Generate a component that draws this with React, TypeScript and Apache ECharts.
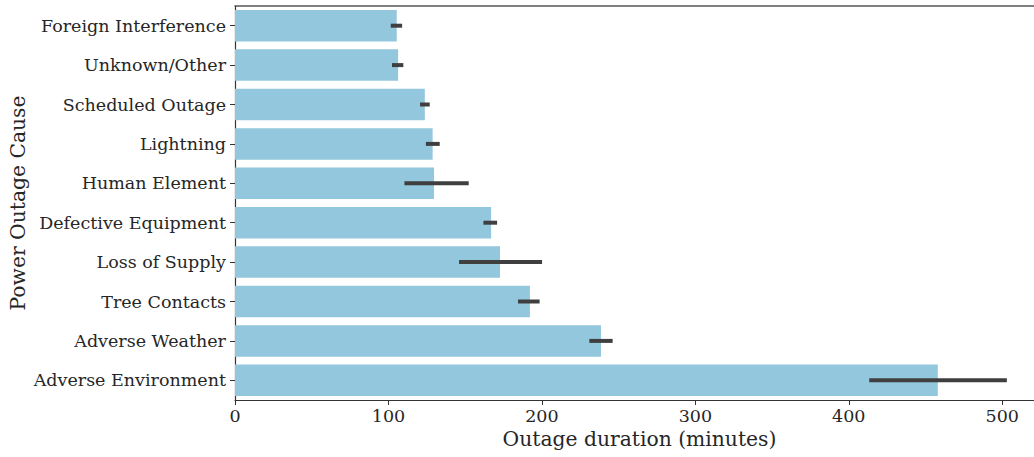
import React, { useEffect, useRef } from "react";
import * as echarts from "echarts";

// Mean outage duration per cause, with 95% confidence interval bounds
const causes = [
  "Foreign Interference",
  "Unknown/Other",
  "Scheduled Outage",
  "Lightning",
  "Human Element",
  "Defective Equipment",
  "Loss of Supply",
  "Tree Contacts",
  "Adverse Weather",
  "Adverse Environment",
];
const meanMinutes = [105.4, 106.3, 123.7, 128.8, 129.7, 166.9, 172.7, 192.2, 238.5, 458.0];
const ciLow = [101.5, 102.3, 120.6, 124.4, 110.4, 161.9, 146.0, 184.4, 230.9, 413.3];
const ciHigh = [108.9, 109.7, 126.9, 133.4, 152.3, 170.8, 200.1, 198.5, 246.1, 503.0];
const xTicks = [0, 100, 200, 300, 400, 500];

const FONT = "DejaVu Serif";
const INK = "#262626";
const X_MAX = 527.2;

export default function App() {
  const ref = useRef<HTMLDivElement>(null);

  useEffect(() => {
    document.body.style.margin = "0";
    const chart = echarts.init(ref.current!, null, { renderer: "svg" });
    const errData = causes.map((_, i) => [i, ciLow[i], ciHigh[i]]);

    chart.setOption({
      animation: false,
      backgroundColor: "#ffffff",
      // plot area runs slightly past the right edge of the canvas
      grid: { left: 235, right: -10, top: 6, bottom: 57, outerBoundsMode: "none", containLabel: false },
      xAxis: [
        {
          type: "value",
          min: 0,
          max: X_MAX,
          position: "bottom",
          name: "Outage duration (minutes)",
          nameLocation: "middle",
          nameGap: 29,
          nameMoveOverlap: false,
          nameTextStyle: { fontFamily: FONT, fontSize: 20.3, color: INK },
          axisLine: { show: true, lineStyle: { color: "#333", width: 1.2 } },
          axisTick: { show: true, length: 5, customValues: xTicks, lineStyle: { color: "#333" } },
          axisLabel: {
            fontFamily: FONT,
            fontSize: 17.5,
            color: INK,
            margin: 7,
            customValues: xTicks,
          },
          splitLine: { show: false },
        },
        {
          type: "value",
          min: 0,
          max: X_MAX,
          position: "top",
          axisLine: { show: true, lineStyle: { color: "#555", width: 1.5 } },
          axisTick: { show: false },
          axisLabel: { show: false },
          splitLine: { show: false },
        },
      ],
      yAxis: {
        type: "category",
        data: causes,
        inverse: true,
        name: "Power Outage Cause",
        nameLocation: "middle",
        nameGap: 207.5,
        nameRotate: 90,
        nameMoveOverlap: false,
        nameTextStyle: { fontFamily: FONT, fontSize: 20.3, color: INK },
        axisLine: { show: true, lineStyle: { color: "#333", width: 1.2 } },
        axisTick: { show: true, length: 5, alignWithLabel: true, lineStyle: { color: "#333" } },
        axisLabel: { fontFamily: FONT, fontSize: 17.5, color: INK, margin: 9 },
        splitLine: { show: false },
      },
      series: [
        {
          type: "bar",
          data: meanMinutes,
          barCategoryGap: "20%",
          itemStyle: { color: "#93c7de" },
          silent: true,
        },
        {
          type: "custom",
          data: errData,
          encode: { x: [1, 2], y: 0 },
          silent: true,
          z: 10,
          renderItem: (_params: any, api: any) => {
            const cat = api.value(0);
            const p1 = api.coord([api.value(1), cat]);
            const p2 = api.coord([api.value(2), cat]);
            return {
              type: "line",
              shape: { x1: p1[0], y1: p1[1], x2: p2[0], y2: p2[1] },
              style: { stroke: "#3f3f3f", lineWidth: 4 },
            };
          },
        },
      ],
    });

    return () => chart.dispose();
  }, []);

  return <div ref={ref} style={{ width: 1034, height: 457 }} />;
}
